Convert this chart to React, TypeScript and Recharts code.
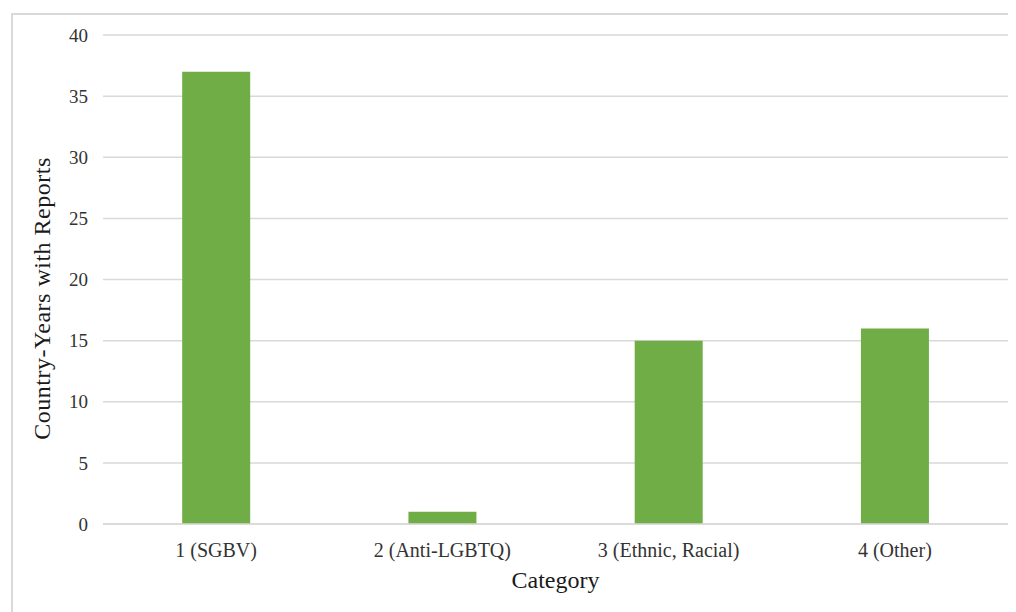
import React from "react";
import { BarChart, Bar, XAxis, YAxis, CartesianGrid, Label } from "recharts";

// Country-years with reports, by category
const categories = ["1 (SGBV)", "2 (Anti-LGBTQ)", "3 (Ethnic, Racial)", "4 (Other)"];
const reports = [37, 1, 15, 16];
const yTicks = [0, 5, 10, 15, 20, 25, 30, 35, 40];

const data = categories.map((category, i) => ({ category, reports: reports[i] }));

const FONT = '"Liberation Serif", "Times New Roman", serif';

export default function App() {
  return (
    <div
      style={{
        marginLeft: 3,
        marginTop: 5,
        width: 1010,
        height: 610,
        border: "2px solid #d9d9d9",
        boxSizing: "border-box",
        background: "#fff",
        fontFamily: FONT,
      }}
    >
      <BarChart
        width={1000}
        height={600}
        data={data}
        margin={{ top: 20, right: 5, left: 0, bottom: 61 }}
        barCategoryGap="35%"
      >
        <CartesianGrid vertical={false} stroke="#d9d9d9" strokeWidth={1.5} />
        <XAxis
          dataKey="category"
          height={30}
          tickSize={0}
          tickMargin={19}
          stroke="#d9d9d9"
          strokeWidth={1.5}
          tick={{ fill: "#333", fontSize: 20, fontFamily: FONT }}
        >
          <Label
            value="Category"
            position="bottom"
            offset={17}
            style={{ fill: "#1a1a1a", fontSize: 24, fontFamily: FONT }}
          />
        </XAxis>
        <YAxis
          width={90}
          domain={[0, 40]}
          ticks={yTicks}
          axisLine={false}
          tickLine={false}
          tickSize={0}
          tickMargin={15}
          interval={0}
          tick={{ fill: "#333", fontSize: 19, fontFamily: FONT }}
        >
          <Label
            value="Country-Years with Reports"
            angle={-90}
            position="center"
            dx={-17}
            dy={19}
            style={{
              fill: "#1a1a1a",
              fontSize: 24,
              letterSpacing: 0.5,
              fontFamily: FONT,
              textAnchor: "middle",
            }}
          />
        </YAxis>
        <Bar dataKey="reports" fill="#70ad47" isAnimationActive={false} />
      </BarChart>
    </div>
  );
}
